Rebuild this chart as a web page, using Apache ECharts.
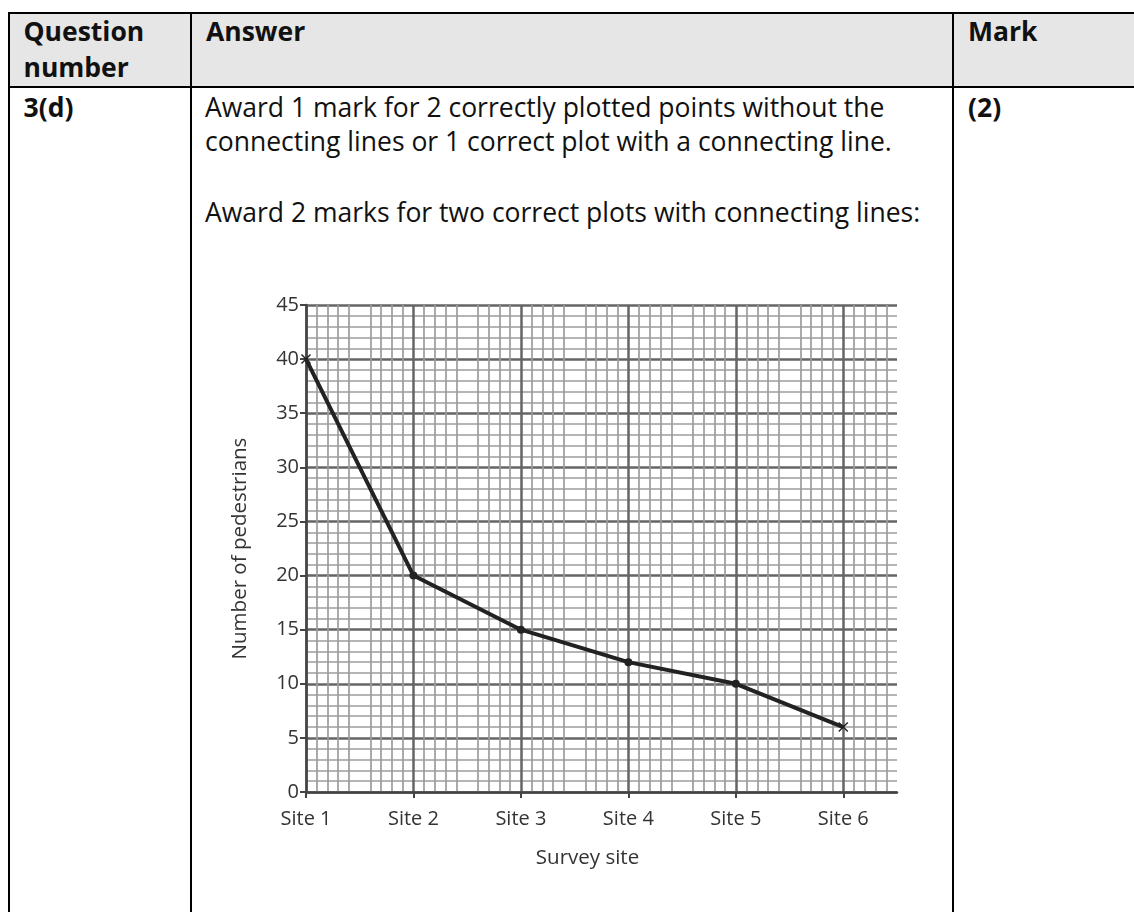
<!DOCTYPE html>
<html>
<head>
<meta charset="utf-8">
<script src="https://cdn.jsdelivr.net/npm/echarts@6/dist/echarts.min.js"></script>
<style>
  html, body { margin:0; padding:0; width:1134px; height:912px; overflow:hidden; background:#fff; }
  body { position:relative; font-family:"Open Sans", sans-serif; color:#111; }
  .ln { position:absolute; background:#000; }
  .t { position:absolute; font-size:26.5px; line-height:34px; white-space:nowrap; }
  .b { font-weight:bold; }
  #hdr { position:absolute; left:10px; top:14px; width:1124px; height:72px; background:#e6e6e6; }
  #chart { position:absolute; left:192px; top:240px; width:760px; height:672px; }
</style>
</head>
<body>
<div id="hdr"></div>
<div class="ln" style="left:8px; top:12px; width:1126px; height:2px;"></div>
<div class="ln" style="left:8px; top:86px; width:1126px; height:2px;"></div>
<div class="ln" style="left:8px; top:12px; width:2px; height:900px;"></div>
<div class="ln" style="left:190px; top:12px; width:2px; height:900px;"></div>
<div class="ln" style="left:952px; top:12px; width:2px; height:900px;"></div>

<div class="t b" style="left:23.5px; top:14px; line-height:35.5px;">Question<br>number</div>
<div class="t b" style="left:206px; top:14px; line-height:35.5px;">Answer</div>
<div class="t b" style="left:968px; top:14px; line-height:35.5px;">Mark</div>

<div class="t b" style="left:23.5px; top:89.5px;">3(d)</div>
<div class="t" style="left:205px; top:89.5px;">Award 1 mark for 2 correctly plotted points without the<br>connecting lines or 1 correct plot with a connecting line.</div>
<div class="t" style="left:205px; top:195px;">Award 2 marks for two correct plots with connecting lines:</div>
<div class="t b" style="left:968px; top:89.5px;">(2)</div>

<div id="chart"></div>
<script>
const categories = ['Site 1', 'Site 2', 'Site 3', 'Site 4', 'Site 5', 'Site 6'];
const pedestrians = [40, 20, 15, 12, 10, 6];
const yTicks = [0, 5, 10, 15, 20, 25, 30, 35, 40, 45];

const siteIdx = categories.map((c, i) => i);
const points = pedestrians.map((v, i) => [i, v]);
const crossPath = 'path://M0,1 L1,0 L5,4 L9,0 L10,1 L6,5 L10,9 L9,10 L5,6 L1,10 L0,9 L4,5 Z';

const labelFont = { fontFamily: 'Open Sans', fontSize: 20, color: '#333' };
const nameFont = { fontFamily: 'Open Sans', fontSize: 20.5, color: '#333' };
const major = { color: '#656565', width: 2.5 };
const minor = { color: '#9c9c9c', width: 1.7 };

const chart = echarts.init(document.getElementById('chart'), null, { renderer: 'canvas' });
chart.setOption({
  animation: false,
  grid: { left: 114, top: 65, width: 591, height: 487, containLabel: false },
  xAxis: {
    type: 'value', min: 0, max: 5.5, interval: 0.5,
    name: 'Survey site', nameLocation: 'middle', nameGap: 56,
    nameTextStyle: Object.assign({}, nameFont, { padding: [0, 28, 0, 0] }),
    axisLine: { show: true, lineStyle: { color: '#444', width: 2.5 } },
    axisTick: { show: true, length: 6, customValues: siteIdx, lineStyle: { color: '#444', width: 2 } },
    axisLabel: Object.assign({}, labelFont, { margin: 17, customValues: siteIdx, formatter: v => categories[Math.round(v)] }),
    splitLine: { show: true, lineStyle: major },
    minorTick: { show: false, splitNumber: 5 },
    minorSplitLine: { show: true, lineStyle: minor }
  },
  yAxis: {
    type: 'value', min: yTicks[0], max: yTicks[yTicks.length - 1], interval: 5,
    name: 'Number of pedestrians', nameLocation: 'middle', nameGap: 55,
    nameTextStyle: nameFont,
    axisLine: { show: true, lineStyle: { color: '#444', width: 2.5 } },
    axisTick: { show: true, length: 6, lineStyle: { color: '#444', width: 2 } },
    axisLabel: Object.assign({}, labelFont, { margin: 7 }),
    splitLine: { show: true, lineStyle: major },
    minorTick: { show: false, splitNumber: 5 },
    minorSplitLine: { show: true, lineStyle: minor }
  },
  series: [{
    type: 'line',
    data: points,
    symbol: (val, p) => (p.dataIndex === 0 || p.dataIndex === pedestrians.length - 1) ? crossPath : 'circle',
    symbolSize: (val, p) => (p.dataIndex === 0 || p.dataIndex === pedestrians.length - 1) ? 10 : 8,
    lineStyle: { color: '#222', width: 4 },
    itemStyle: { color: '#222' },
    z: 5
  }]
});
</script>
</body>
</html>
